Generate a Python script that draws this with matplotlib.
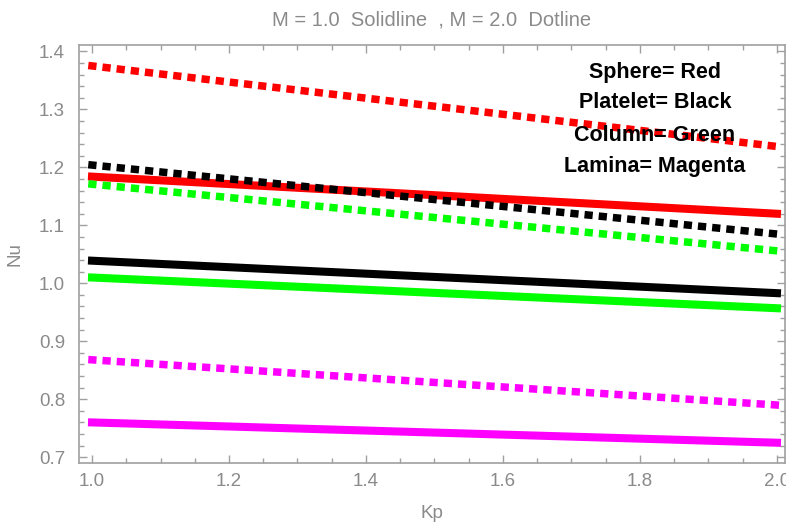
import matplotlib
matplotlib.use('Agg')
import matplotlib.pyplot as plt
import matplotlib.ticker as mticker

plt.rcParams.update({
    'font.family': ['Liberation Sans', 'DejaVu Sans'],
    'font.size': 12,
})

GRAY_TXT = '#8a8a8a'
GRAY_AX = '#a0a0a0'

kp = [1.0, 2.0]

# M = 1.0 (solid lines)
sphere_m1 = [1.184, 1.120]
platelet_m1 = [1.039, 0.983]
column_m1 = [1.010, 0.957]
lamina_m1 = [0.760, 0.725]

# M = 2.0 (dotted lines)
sphere_m2 = [1.375, 1.236]
platelet_m2 = [1.204, 1.085]
column_m2 = [1.171, 1.056]
lamina_m2 = [0.868, 0.790]

series = [
    (sphere_m1, sphere_m2, '#ff0000'),
    (platelet_m1, platelet_m2, '#000000'),
    (column_m1, column_m2, '#00ff00'),
    (lamina_m1, lamina_m2, '#ff00ff'),
]

legend_lines = ['Sphere= Red', 'Platelet= Black', 'Column= Green', 'Lamina= Magenta']
legend_y = [72.7, 102.5, 135.0, 166.7]   # pixel rows from the top

fig = plt.figure(figsize=(7.86, 5.30), dpi=100)
ax = fig.add_axes([0.1005, 0.1264, 0.8982, 0.7886])

for solid, dotted, col in series:
    ax.plot(kp, solid, color=col, lw=5.8, solid_capstyle='projecting', zorder=3)
    ax.plot(kp, dotted, color=col, lw=5.4, linestyle=(0, (0.1, 1.8)),
            dash_capstyle='projecting', zorder=3)

ax.set_xlim(0.981, 2.0117)
ax.set_ylim(0.690, 1.411)

ax.xaxis.set_major_locator(mticker.MultipleLocator(0.2))
ax.xaxis.set_minor_locator(mticker.MultipleLocator(0.05))
ax.yaxis.set_major_locator(mticker.MultipleLocator(0.1))
ax.yaxis.set_minor_locator(mticker.MultipleLocator(0.02))
ax.xaxis.set_major_formatter(mticker.FormatStrFormatter('%.1f'))
ax.yaxis.set_major_formatter(mticker.FormatStrFormatter('%.1f'))

ax.tick_params(which='both', direction='in', top=True, right=True,
               color=GRAY_AX, labelcolor=GRAY_TXT, width=1)
ax.tick_params(which='major', length=6)
ax.tick_params(which='minor', length=3.5)
ax.tick_params(axis='y', pad=10, labelsize=13.5)
ax.tick_params(axis='x', pad=7, labelsize=13.5)
for sp in ax.spines.values():
    sp.set_color(GRAY_AX)
    sp.set_linewidth(1.2)

ax.set_xlabel('Kp', color=GRAY_TXT, fontsize=13.5, labelpad=11)
ax.set_ylabel('Nu', color=GRAY_TXT, fontsize=13.5, labelpad=11)
ax.set_title('M = 1.0  Solidline  , M = 2.0  Dotline', color=GRAY_TXT,
             fontsize=14.5, pad=14)

for txt, yp in zip(legend_lines, legend_y):
    fig.text(655 / 786, 1 - yp / 530, txt, ha='center', va='center',
             fontsize=15.5, fontweight='bold', color='black', zorder=10)

fig.savefig('out.png', dpi=100)
